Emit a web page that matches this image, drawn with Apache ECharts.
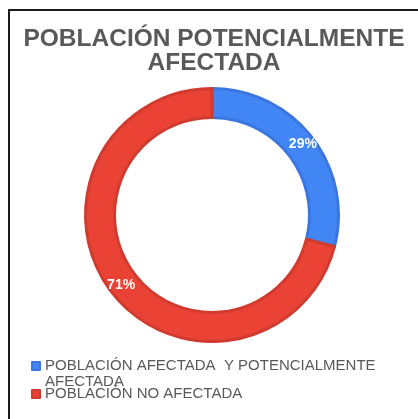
<!DOCTYPE html>
<html>
<head>
<meta charset="utf-8">
<script src="https://cdn.jsdelivr.net/npm/echarts@6/dist/echarts.min.js"></script>
<style>
  html, body { margin: 0; padding: 0; background: #fff; overflow: hidden; width: 418px; height: 419px; }
  #frame { position: absolute; left: 8px; top: 9px; width: 420px; height: 420px;
           border-top: 2px solid #1a1a1a; border-left: 2px solid #1a1a1a; box-sizing: border-box; }
  #chart { position: absolute; left: 0; top: 0; width: 428px; height: 419px; }
</style>
</head>
<body>
<div id="frame"></div>
<div id="chart"></div>
<script>
const titleText = 'POBLACIÓN POTENCIALMENTE\nAFECTADA';
const categories = ['POBLACIÓN AFECTADA  Y POTENCIALMENTE AFECTADA', 'POBLACIÓN NO AFECTADA'];
const legendLabels = ['\nPOBLACIÓN AFECTADA  Y POTENCIALMENTE\nAFECTADA', 'POBLACIÓN NO AFECTADA'];
const values = [29, 71];
const fillColors = ['#4285f4', '#ea4335'];
const borderColors = ['#3a76dd', '#d03b2f'];

const chart = echarts.init(document.getElementById('chart'), null, { renderer: 'canvas' });
chart.setOption({
  backgroundColor: 'transparent',
  animation: false,
  title: {
    text: titleText,
    left: 'center',
    top: 22,
    textStyle: {
      fontFamily: 'Liberation Sans, Arial, sans-serif',
      fontSize: 24.5,
      fontWeight: 'bold',
      color: '#595959',
      lineHeight: 24
    }
  },
  legend: {
    orient: 'vertical',
    left: 31,
    top: 342,
    padding: 0,
    itemGap: -4,
    itemWidth: 8,
    itemHeight: 8,
    icon: 'rect',
    formatter: function (name) {
      return legendLabels[categories.indexOf(name)];
    },
    textStyle: {
      fontFamily: 'Liberation Sans, Arial, sans-serif',
      fontSize: 15,
      color: '#595959',
      lineHeight: 16
    },
    data: categories
  },
  series: [{
    type: 'pie',
    center: [212, 215],
    radius: [97.5, 126.5],
    startAngle: 90,
    clockwise: true,
    label: {
      show: true,
      position: 'inside',
      formatter: '{d}%',
      color: '#ffffff',
      fontFamily: 'Liberation Sans, Arial, sans-serif',
      fontWeight: 'bold',
      fontSize: 14
    },
    labelLine: { show: false },
    emphasis: { disabled: true },
    data: categories.map(function (c, i) {
      return {
        name: c,
        value: values[i],
        itemStyle: { color: fillColors[i], borderColor: borderColors[i], borderWidth: 3 }
      };
    })
  }]
});
</script>
</body>
</html>
